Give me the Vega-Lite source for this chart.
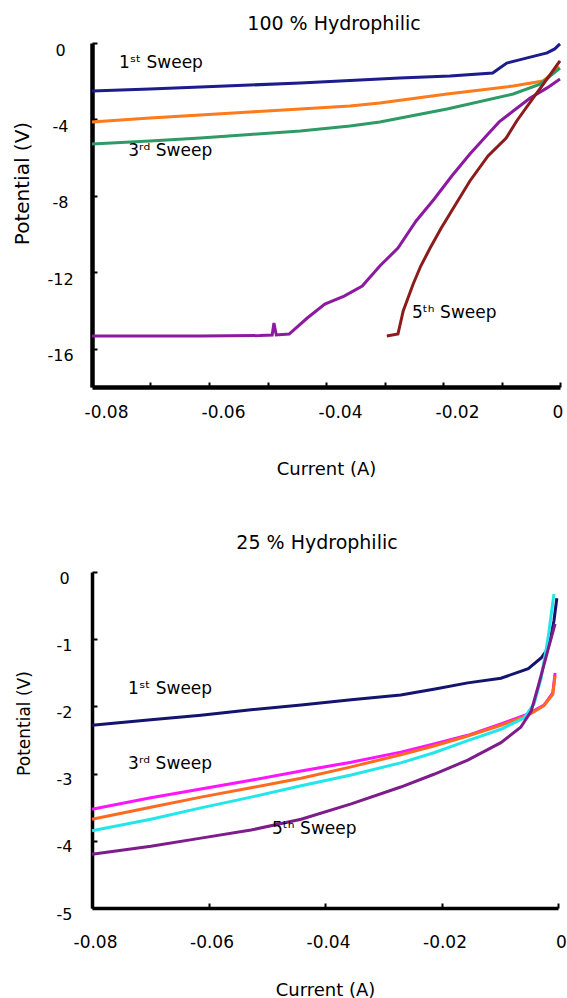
{
  "$schema": "https://vega.github.io/schema/vega-lite/v6.json",
  "background": "white",
  "padding": {"left": 12, "top": 14, "right": 0, "bottom": 0},
  "config": {"view": {"stroke": null}, "font": "DejaVu Sans"},
  "bounds": "flush",
  "spacing": 185,
  "resolve": {"scale": {"color": "independent", "x": "independent", "y": "independent"}},
  "datasets": {
    "top": [
      {"sweep": "1st", "current": -0.08, "potential": -2.51},
      {"sweep": "1st", "current": -0.0701, "potential": -2.41},
      {"sweep": "1st", "current": -0.0615, "potential": -2.30},
      {"sweep": "1st", "current": -0.0530, "potential": -2.20},
      {"sweep": "1st", "current": -0.0444, "potential": -2.09},
      {"sweep": "1st", "current": -0.0359, "potential": -1.96},
      {"sweep": "1st", "current": -0.0274, "potential": -1.83},
      {"sweep": "1st", "current": -0.0188, "potential": -1.73},
      {"sweep": "1st", "current": -0.0115, "potential": -1.57},
      {"sweep": "1st", "current": -0.0103, "potential": -1.31},
      {"sweep": "1st", "current": -0.0091, "potential": -1.05},
      {"sweep": "1st", "current": -0.0056, "potential": -0.78},
      {"sweep": "1st", "current": -0.0022, "potential": -0.52},
      {"sweep": "1st", "current": -0.0009, "potential": -0.31},
      {"sweep": "1st", "current": 0, "potential": -0.05},
      {"sweep": "2nd", "current": -0.08, "potential": -4.13},
      {"sweep": "2nd", "current": -0.0701, "potential": -3.92},
      {"sweep": "2nd", "current": -0.0615, "potential": -3.77},
      {"sweep": "2nd", "current": -0.0530, "potential": -3.61},
      {"sweep": "2nd", "current": -0.0444, "potential": -3.45},
      {"sweep": "2nd", "current": -0.0359, "potential": -3.30},
      {"sweep": "2nd", "current": -0.0308, "potential": -3.14},
      {"sweep": "2nd", "current": -0.0193, "potential": -2.67},
      {"sweep": "2nd", "current": -0.0080, "potential": -2.25},
      {"sweep": "2nd", "current": -0.0029, "potential": -1.99},
      {"sweep": "2nd", "current": -0.0012, "potential": -1.57},
      {"sweep": "2nd", "current": -0.0003, "potential": -1.20},
      {"sweep": "3rd", "current": -0.08, "potential": -5.28},
      {"sweep": "3rd", "current": -0.0701, "potential": -5.13},
      {"sweep": "3rd", "current": -0.0615, "potential": -4.97},
      {"sweep": "3rd", "current": -0.0530, "potential": -4.79},
      {"sweep": "3rd", "current": -0.0444, "potential": -4.60},
      {"sweep": "3rd", "current": -0.0359, "potential": -4.34},
      {"sweep": "3rd", "current": -0.0308, "potential": -4.13},
      {"sweep": "3rd", "current": -0.0193, "potential": -3.45},
      {"sweep": "3rd", "current": -0.0080, "potential": -2.67},
      {"sweep": "3rd", "current": -0.0034, "potential": -2.15},
      {"sweep": "3rd", "current": 0, "potential": -1.31},
      {"sweep": "4th", "current": -0.08, "potential": -15.33},
      {"sweep": "4th", "current": -0.0615, "potential": -15.33},
      {"sweep": "4th", "current": -0.0513, "potential": -15.31},
      {"sweep": "4th", "current": -0.0492, "potential": -15.28},
      {"sweep": "4th", "current": -0.0489, "potential": -14.65},
      {"sweep": "4th", "current": -0.0485, "potential": -15.28},
      {"sweep": "4th", "current": -0.0463, "potential": -15.23},
      {"sweep": "4th", "current": -0.0432, "potential": -14.39},
      {"sweep": "4th", "current": -0.0402, "potential": -13.66},
      {"sweep": "4th", "current": -0.0369, "potential": -13.24},
      {"sweep": "4th", "current": -0.0338, "potential": -12.72},
      {"sweep": "4th", "current": -0.0308, "potential": -11.67},
      {"sweep": "4th", "current": -0.0277, "potential": -10.73},
      {"sweep": "4th", "current": -0.0246, "potential": -9.31},
      {"sweep": "4th", "current": -0.0215, "potential": -8.16},
      {"sweep": "4th", "current": -0.0185, "potential": -6.96},
      {"sweep": "4th", "current": -0.0154, "potential": -5.81},
      {"sweep": "4th", "current": -0.0123, "potential": -4.76},
      {"sweep": "4th", "current": -0.0104, "potential": -4.13},
      {"sweep": "4th", "current": -0.0080, "potential": -3.56},
      {"sweep": "4th", "current": -0.0051, "potential": -2.88},
      {"sweep": "4th", "current": -0.0022, "potential": -2.35},
      {"sweep": "4th", "current": 0, "potential": -1.88},
      {"sweep": "5th", "current": -0.0296, "potential": -15.33},
      {"sweep": "5th", "current": -0.0277, "potential": -15.23},
      {"sweep": "5th", "current": -0.0268, "potential": -14.02},
      {"sweep": "5th", "current": -0.0251, "potential": -12.61},
      {"sweep": "5th", "current": -0.0238, "potential": -11.67},
      {"sweep": "5th", "current": -0.0222, "potential": -10.73},
      {"sweep": "5th", "current": -0.0203, "potential": -9.68},
      {"sweep": "5th", "current": -0.0178, "potential": -8.42},
      {"sweep": "5th", "current": -0.0154, "potential": -7.22},
      {"sweep": "5th", "current": -0.0123, "potential": -5.91},
      {"sweep": "5th", "current": -0.0092, "potential": -4.97},
      {"sweep": "5th", "current": -0.0074, "potential": -4.08},
      {"sweep": "5th", "current": -0.0046, "potential": -2.88},
      {"sweep": "5th", "current": -0.0022, "potential": -1.88},
      {"sweep": "5th", "current": -0.0005, "potential": -1.15},
      {"sweep": "5th", "current": 0, "potential": -0.94}
    ],
    "topLabels": [
      {"label": "1ˢᵗ Sweep", "current": -0.0754, "potential": -1.05},
      {"label": "3ʳᵈ Sweep", "current": -0.0738, "potential": -5.65},
      {"label": "5ᵗʰ Sweep", "current": -0.0253, "potential": -14.13}
    ],
    "bottom": [
      {"sweep": "1st", "current": -0.08, "potential": -2.28},
      {"sweep": "1st", "current": -0.0699, "potential": -2.20},
      {"sweep": "1st", "current": -0.0613, "potential": -2.13},
      {"sweep": "1st", "current": -0.0527, "potential": -2.05},
      {"sweep": "1st", "current": -0.0441, "potential": -1.98},
      {"sweep": "1st", "current": -0.0355, "potential": -1.90},
      {"sweep": "1st", "current": -0.0270, "potential": -1.83},
      {"sweep": "1st", "current": -0.0211, "potential": -1.74},
      {"sweep": "1st", "current": -0.0155, "potential": -1.65},
      {"sweep": "1st", "current": -0.0098, "potential": -1.58},
      {"sweep": "1st", "current": -0.0051, "potential": -1.44},
      {"sweep": "1st", "current": -0.0029, "potential": -1.28},
      {"sweep": "1st", "current": -0.0019, "potential": -1.16},
      {"sweep": "1st", "current": -0.0012, "potential": -0.95},
      {"sweep": "1st", "current": -0.0007, "potential": -0.73},
      {"sweep": "1st", "current": -0.0002, "potential": -0.39},
      {"sweep": "2nd", "current": -0.08, "potential": -3.53},
      {"sweep": "2nd", "current": -0.0699, "potential": -3.36},
      {"sweep": "2nd", "current": -0.0613, "potential": -3.23},
      {"sweep": "2nd", "current": -0.0527, "potential": -3.10},
      {"sweep": "2nd", "current": -0.0441, "potential": -2.96},
      {"sweep": "2nd", "current": -0.0355, "potential": -2.83},
      {"sweep": "2nd", "current": -0.0270, "potential": -2.68},
      {"sweep": "2nd", "current": -0.0213, "potential": -2.56},
      {"sweep": "2nd", "current": -0.0155, "potential": -2.43},
      {"sweep": "2nd", "current": -0.0098, "potential": -2.26},
      {"sweep": "2nd", "current": -0.0051, "potential": -2.11},
      {"sweep": "2nd", "current": -0.0024, "potential": -1.98},
      {"sweep": "2nd", "current": -0.0009, "potential": -1.80},
      {"sweep": "2nd", "current": -0.0005, "potential": -1.50},
      {"sweep": "3rd", "current": -0.08, "potential": -3.68},
      {"sweep": "3rd", "current": -0.0699, "potential": -3.50},
      {"sweep": "3rd", "current": -0.0613, "potential": -3.35},
      {"sweep": "3rd", "current": -0.0527, "potential": -3.21},
      {"sweep": "3rd", "current": -0.0441, "potential": -3.07},
      {"sweep": "3rd", "current": -0.0355, "potential": -2.90},
      {"sweep": "3rd", "current": -0.0270, "potential": -2.72},
      {"sweep": "3rd", "current": -0.0213, "potential": -2.59},
      {"sweep": "3rd", "current": -0.0155, "potential": -2.44},
      {"sweep": "3rd", "current": -0.0098, "potential": -2.28},
      {"sweep": "3rd", "current": -0.0051, "potential": -2.13},
      {"sweep": "3rd", "current": -0.0024, "potential": -1.99},
      {"sweep": "3rd", "current": -0.0009, "potential": -1.82},
      {"sweep": "3rd", "current": -0.0005, "potential": -1.55},
      {"sweep": "4th", "current": -0.08, "potential": -3.85},
      {"sweep": "4th", "current": -0.0699, "potential": -3.68},
      {"sweep": "4th", "current": -0.0613, "potential": -3.51},
      {"sweep": "4th", "current": -0.0527, "potential": -3.35},
      {"sweep": "4th", "current": -0.0441, "potential": -3.18},
      {"sweep": "4th", "current": -0.0355, "potential": -3.02},
      {"sweep": "4th", "current": -0.0270, "potential": -2.84},
      {"sweep": "4th", "current": -0.0213, "potential": -2.69},
      {"sweep": "4th", "current": -0.0155, "potential": -2.51},
      {"sweep": "4th", "current": -0.0098, "potential": -2.34},
      {"sweep": "4th", "current": -0.0058, "potential": -2.17},
      {"sweep": "4th", "current": -0.0041, "potential": -1.96},
      {"sweep": "4th", "current": -0.0029, "potential": -1.58},
      {"sweep": "4th", "current": -0.0017, "potential": -0.98},
      {"sweep": "4th", "current": -0.0007, "potential": -0.33},
      {"sweep": "5th", "current": -0.08, "potential": -4.20},
      {"sweep": "5th", "current": -0.0699, "potential": -4.08},
      {"sweep": "5th", "current": -0.0613, "potential": -3.96},
      {"sweep": "5th", "current": -0.0527, "potential": -3.84},
      {"sweep": "5th", "current": -0.0441, "potential": -3.68},
      {"sweep": "5th", "current": -0.0355, "potential": -3.45},
      {"sweep": "5th", "current": -0.0270, "potential": -3.20},
      {"sweep": "5th", "current": -0.0213, "potential": -3.01},
      {"sweep": "5th", "current": -0.0155, "potential": -2.80},
      {"sweep": "5th", "current": -0.0098, "potential": -2.54},
      {"sweep": "5th", "current": -0.0064, "potential": -2.31},
      {"sweep": "5th", "current": -0.0046, "potential": -2.07},
      {"sweep": "5th", "current": -0.0034, "potential": -1.70},
      {"sweep": "5th", "current": -0.0017, "potential": -1.15},
      {"sweep": "5th", "current": -0.0005, "potential": -0.77}
    ],
    "bottomLabels": [
      {"label": "1ˢᵗ Sweep", "current": -0.0738, "potential": -1.74},
      {"label": "3ʳᵈ Sweep", "current": -0.0738, "potential": -2.86},
      {"label": "5ᵗʰ Sweep", "current": -0.0491, "potential": -3.82}
    ]
  },
  "vconcat": [
    {
      "width": 468,
      "height": 344,
      "title": {"text": "100 % Hydrophilic", "frame": "group", "anchor": "middle", "dx": 8, "dy": 24, "offset": 13, "baseline": "alphabetic", "fontSize": 19, "fontWeight": "normal", "font": "DejaVu Sans", "color": "black"},
      "layer": [
        {
          "data": {"name": "top"},
          "mark": {"type": "line", "strokeWidth": 3},
          "encoding": {
            "x": {
              "field": "current", "type": "quantitative",
              "scale": {"domain": [-0.08, 0], "nice": false, "zero": false},
              "axis": {
                "title": "Current (A)",
                "values": [-0.08, -0.07, -0.06, -0.05, -0.04, -0.03, -0.02, -0.01, 0],
                "labelExpr": "abs(round(datum.value*100)) % 2 == 0 ? (datum.value == 0 ? '0' : toString(round(datum.value*100)/100)) : ''",
                "grid": false, "domainColor": "black", "domainWidth": 4.5,
                "tickColor": "black", "tickWidth": 2, "tickSize": -5,
                "labelPadding": 30, "labelBaseline": "middle", "labelAlign": "left", "labelOffset": -8,
                "labelFontSize": 17, "labelColor": "black", "labelFlush": false, "labelOverlap": false,
                "titleFontSize": 18, "titleFontWeight": "normal", "titleColor": "black",
                "titleY": 82, "titleBaseline": "middle"
              }
            },
            "y": {
              "field": "potential", "type": "quantitative",
              "scale": {"domain": [-18, 0], "nice": false, "zero": false},
              "axis": {
                "title": "Potential (V)",
                "values": [0, -4, -8, -12, -16],
                "labelExpr": "toString(datum.value)",
                "grid": false, "domainColor": "black", "domainWidth": 4.5,
                "tickColor": "black", "tickWidth": 2, "tickSize": -5,
                "labelAlign": "center", "labelBaseline": "middle", "labelPadding": 37, "labelOffset": 7,
                "labelFontSize": 16, "labelColor": "black", "labelFlush": false, "labelOverlap": false,
                "titleFontSize": 20, "titleFontWeight": "normal", "titleColor": "black",
                "titleX": -70, "titleY": 140, "titleAngle": -90, "titleAlign": "center", "titleBaseline": "middle"
              }
            },
            "color": {
              "field": "sweep", "type": "nominal",
              "scale": {"domain": ["1st", "2nd", "3rd", "4th", "5th"], "range": ["#1c1c8c", "#ff7a1a", "#2e9a66", "#8c1aa0", "#8c1c1c"]},
              "legend": null
            }
          }
        },
        {
          "data": {"name": "topLabels"},
          "mark": {"type": "text", "align": "left", "baseline": "middle", "fontSize": 17, "color": "black"},
          "encoding": {
            "x": {"field": "current", "type": "quantitative"},
            "y": {"field": "potential", "type": "quantitative"},
            "text": {"field": "label"}
          }
        }
      ]
    },
    {
      "width": 466,
      "height": 336,
      "title": {"text": "25 % Hydrophilic", "frame": "group", "anchor": "middle", "dx": -8, "dy": 20, "offset": 22, "baseline": "alphabetic", "fontSize": 19, "fontWeight": "normal", "font": "DejaVu Sans", "color": "black"},
      "layer": [
        {
          "data": {"name": "bottom"},
          "mark": {"type": "line", "strokeWidth": 3},
          "encoding": {
            "x": {
              "field": "current", "type": "quantitative",
              "scale": {"domain": [-0.08, 0], "nice": false, "zero": false},
              "axis": {
                "title": "Current (A)",
                "values": [-0.08, -0.06, -0.04, -0.02, 0],
                "labelExpr": "datum.value == 0 ? '0' : toString(datum.value)",
                "grid": false, "domainColor": "black", "domainWidth": 3.5,
                "tickColor": "black", "tickWidth": 2, "tickSize": -5,
                "labelPadding": 39, "labelBaseline": "middle", "labelOffset": 3,
                "labelFontSize": 17, "labelColor": "black", "labelFlush": false, "labelOverlap": false,
                "titleFontSize": 18, "titleFontWeight": "normal", "titleColor": "black",
                "titleY": 82, "titleBaseline": "middle"
              }
            },
            "y": {
              "field": "potential", "type": "quantitative",
              "scale": {"domain": [-5, 0], "nice": false, "zero": false},
              "axis": {
                "title": "Potential (V)",
                "values": [0, -1, -2, -3, -4, -5],
                "labelExpr": "toString(datum.value)",
                "grid": false, "domainColor": "black", "domainWidth": 3.5,
                "tickColor": "black", "tickWidth": 2, "tickSize": -5,
                "labelAlign": "center", "labelBaseline": "middle", "labelPadding": 33, "labelOffset": 6,
                "labelFontSize": 16, "labelColor": "black", "labelFlush": false, "labelOverlap": false,
                "titleFontSize": 17, "titleFontWeight": "normal", "titleColor": "black",
                "titleX": -68, "titleY": 151, "titleAngle": -90, "titleAlign": "center", "titleBaseline": "middle"
              }
            },
            "color": {
              "field": "sweep", "type": "nominal",
              "scale": {"domain": ["1st", "2nd", "3rd", "4th", "5th"], "range": ["#14146e", "#ff14ff", "#ff6a1e", "#22e6ea", "#7d1c8a"]},
              "legend": null
            }
          }
        },
        {
          "data": {"name": "bottomLabels"},
          "mark": {"type": "text", "align": "left", "baseline": "middle", "fontSize": 17, "color": "black"},
          "encoding": {
            "x": {"field": "current", "type": "quantitative"},
            "y": {"field": "potential", "type": "quantitative"},
            "text": {"field": "label"}
          }
        }
      ]
    }
  ]
}
